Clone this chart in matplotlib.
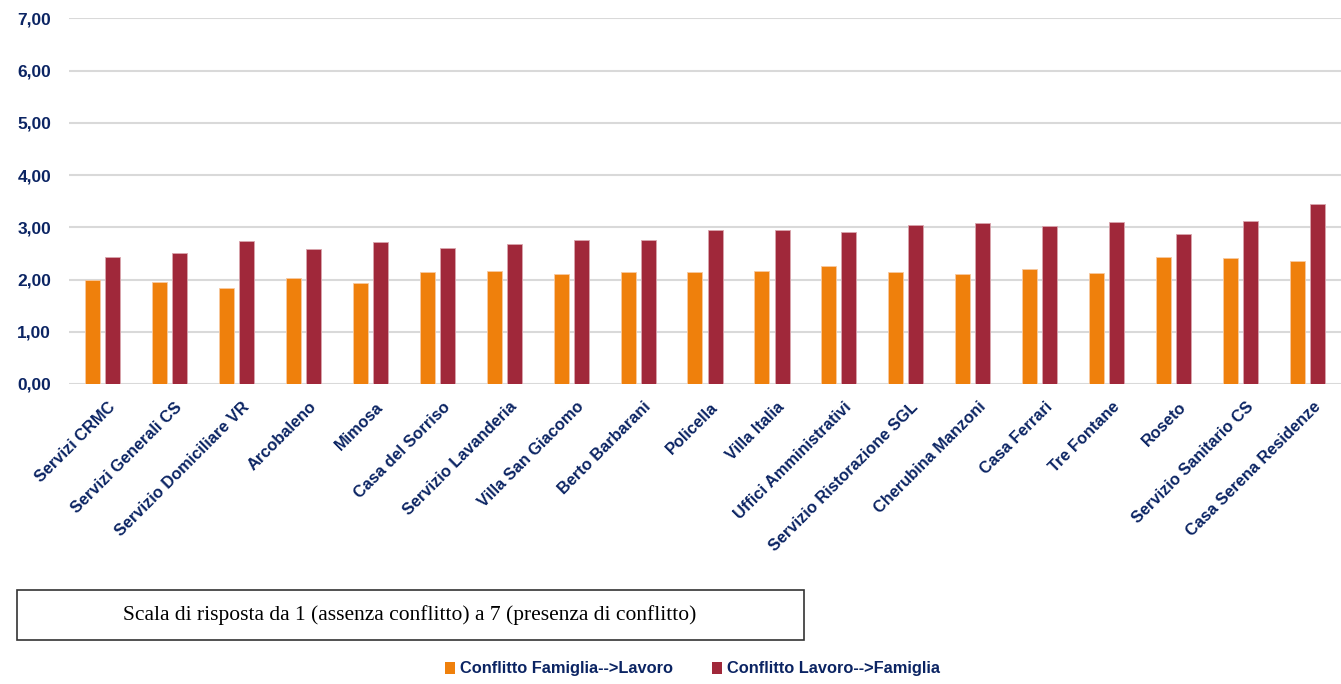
import matplotlib
matplotlib.use("Agg")
import matplotlib.pyplot as plt
import matplotlib.transforms as mtransforms
from matplotlib.patches import Rectangle
import numpy as np

categories = ["Servizi CRMC", "Servizi Generali CS", "Servizio Domiciliare VR", "Arcobaleno",
              "Mimosa", "Casa del Sorriso", "Servizio Lavanderia", "Villa San Giacomo",
              "Berto Barbarani", "Policella", "Villa Italia", "Uffici Amministrativi",
              "Servizio Ristorazione SGL", "Cherubina Manzoni", "Casa Ferrari", "Tre Fontane",
              "Roseto", "Servizio Sanitario CS", "Casa Serena Residenze"]
famiglia_lavoro = [1.99, 1.95, 1.83, 2.03, 1.93, 2.15, 2.17, 2.10, 2.15, 2.15,
                   2.17, 2.26, 2.15, 2.11, 2.21, 2.12, 2.43, 2.41, 2.35]
lavoro_famiglia = [2.44, 2.50, 2.73, 2.59, 2.72, 2.60, 2.69, 2.76, 2.76, 2.95,
                   2.95, 2.91, 3.05, 3.08, 3.02, 3.11, 2.87, 3.13, 3.45]
y_ticks = [0, 1, 2, 3, 4, 5, 6, 7]
series_names = ["Conflitto Famiglia-->Lavoro", "Conflitto Lavoro-->Famiglia"]
note = "Scala di risposta da 1 (assenza conflitto) a 7 (presenza di conflitto)"

navy = "#0B2463"
orange = "#EF800C"
red = "#A0283A"
sans = ["Liberation Sans", "DejaVu Sans"]

fig = plt.figure(figsize=(13.41, 6.84), dpi=100)
ax = fig.add_axes([0.0515, 0.4386, 0.9485, 0.5344])

x = np.arange(len(categories))
w = 0.224
ax.bar(x - 0.15, famiglia_lavoro, w, color=orange, edgecolor="#F8C9A0", linewidth=0.6, zorder=3)
ax.bar(x + 0.15, lavoro_famiglia, w, color=red, edgecolor="#D9A5AD", linewidth=0.6, zorder=3)

ax.set_xlim(-0.5, len(categories) - 0.5)
ax.set_ylim(0, 7)
ax.set_yticks(y_ticks)
ax.set_yticklabels(["%d,00" % v for v in y_ticks], family=sans, fontweight="bold",
                   fontsize=12.5, color=navy)
ax.yaxis.grid(True, color="#D9D9D9", linewidth=1.5, zorder=0)
ax.tick_params(axis="y", length=0, pad=13)
ax.tick_params(axis="x", length=0, pad=11)
ax.set_xticks(x)
ax.set_xticklabels(categories, rotation=45, ha="right", rotation_mode="anchor",
                   family=sans, fontweight="bold", fontsize=11.8, color=navy)
# nudge labels a few pixels to the right, like the original
shift = mtransforms.ScaledTranslation(5 / 100, 0, fig.dpi_scale_trans)
for lab in ax.get_xticklabels():
    lab.set_transform(lab.get_transform() + shift)
for s in ax.spines.values():
    s.set_visible(False)

# note box
fig.patches.append(Rectangle((17 / 1341, 1 - 640 / 684), 787 / 1341, 50 / 684,
                             transform=fig.transFigure, facecolor="white",
                             edgecolor="#333333", linewidth=1.2))
fig.text(410 / 1341, 1 - 615 / 684, note, ha="center", va="center",
         family=["Liberation Serif", "DejaVu Serif"], fontsize=15.5, color="black")

# legend
for xs, col, name in [(445, orange, series_names[0]), (712, red, series_names[1])]:
    fig.patches.append(Rectangle((xs / 1341, 1 - 674 / 684), 10 / 1341, 12 / 684,
                                 transform=fig.transFigure, facecolor=col, edgecolor="none"))
    fig.text((xs + 15) / 1341, 1 - 668 / 684, name, ha="left", va="center",
             family=sans, fontweight="bold", fontsize=11.8, color=navy)

fig.savefig("out.png", dpi=100)
